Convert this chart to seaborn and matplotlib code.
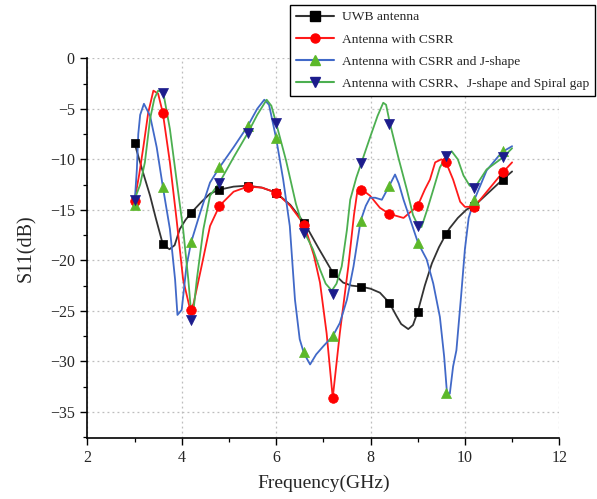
import numpy as np
import pandas as pd
import matplotlib
matplotlib.use("Agg")
import matplotlib.pyplot as plt
from matplotlib.lines import Line2D
from matplotlib.ticker import MultipleLocator
import seaborn as sns

# ---------------- data ----------------
series_names = ["UWB antenna", "Antenna with CSRR", "Antenna with CSRR and J-shape",
                "Antenna with CSRR\u3001J-shape and Spiral gap"]

# marker positions
freq_mk = [3.0, 3.6, 4.2, 4.8, 5.4, 6.0, 6.6, 7.2, 7.8, 8.4, 9.0, 9.6, 10.2, 10.8]
uwb_mk = [-8.4, -18.4, -15.3, -13.0, -12.6, -13.3, -16.3, -21.2, -22.6, -24.2, -25.1, -17.4, -14.6, -12.0]
csrr_mk = [-14.1, -5.4, -24.9, -14.6, -12.7, -13.3, -16.5, -33.6, -13.0, -15.4, -14.6, -10.3, -14.7, -11.3]
j_mk = [-14.5, -12.7, -18.2, -10.8, -6.7, -7.9, -29.1, -27.5, -16.1, -12.6, -18.3, -33.1, -14.0, -9.2]
spiral_mk = [-14.0, -3.4, -25.9, -12.3, -7.4, -6.4, -17.3, -23.3, -10.4, -6.5, -16.6, -9.7, -12.8, -9.8]

# traced curves
uwb_f = [3.0, 3.2, 3.33, 3.45, 3.6, 3.74, 3.85, 3.96, 4.08, 4.2, 4.42, 4.6, 4.8, 5.1, 5.4, 5.7, 6.0,
         6.3, 6.6, 6.9, 7.2, 7.42, 7.6, 7.8, 8.0, 8.2, 8.4, 8.55, 8.65, 8.8, 8.9, 9.0, 9.15, 9.3,
         9.45, 9.6, 9.68, 9.85, 10.04, 10.2, 10.5, 10.8, 11.0]
uwb_v = [-8.4, -11.6, -13.6, -15.8, -18.4, -18.9, -18.5, -16.9, -16.0, -15.3, -14.2, -13.4, -13.0,
         -12.7, -12.6, -12.8, -13.3, -14.5, -16.3, -18.8, -21.2, -22.2, -22.5, -22.6, -22.8, -23.2,
         -24.2, -25.5, -26.3, -26.8, -26.4, -25.1, -22.5, -20.3, -18.7, -17.4, -16.8, -15.8, -14.95,
         -14.6, -13.3, -12.0, -11.2]

csrr_f = [3.0, 3.1, 3.19, 3.29, 3.4, 3.5, 3.6, 3.75, 3.89, 4.03, 4.18, 4.25, 4.42, 4.6, 4.8, 5.1,
          5.4, 5.7, 6.0, 6.3, 6.6, 6.8, 6.93, 7.07, 7.2, 7.35, 7.53, 7.65, 7.72, 7.76, 7.82, 7.99,
          8.2, 8.4, 8.7, 9.0, 9.15, 9.26, 9.37, 9.5, 9.6, 9.75, 9.9, 10.0, 10.2, 10.5, 10.8, 11.0]
csrr_v = [-14.1, -11.5, -8.7, -5.4, -3.2, -3.5, -5.4, -10.3, -15.9, -21.9, -24.9, -24.3, -20.6,
          -16.6, -14.6, -13.2, -12.7, -12.8, -13.3, -14.6, -16.5, -19.5, -22.2, -27.2, -33.6, -27.2,
          -20.6, -15.5, -13.2, -12.8, -13.0, -13.6, -14.8, -15.4, -15.8, -14.6, -13.0, -12.0, -10.3,
          -10.0, -10.3, -12.0, -14.2, -14.7, -14.7, -13.0, -11.3, -10.3]

j_f = [3.0, 3.05, 3.08, 3.12, 3.2, 3.33, 3.47, 3.6, 3.75, 3.86, 3.91, 4.0, 4.1, 4.2, 4.39, 4.6, 4.8,
       5.1, 5.4, 5.6, 5.75, 5.85, 6.0, 6.15, 6.29, 6.4, 6.5, 6.59, 6.72, 6.85, 7.0, 7.2, 7.35, 7.5,
       7.64, 7.79, 7.9, 7.99, 8.1, 8.24, 8.4, 8.52, 8.6, 8.7, 9.01, 9.19, 9.33, 9.47, 9.56, 9.62,
       9.68, 9.75, 9.82, 9.92, 10.0, 10.08, 10.2, 10.46, 10.78, 11.0]
j_v = [-14.5, -11.0, -7.5, -5.6, -4.5, -5.7, -8.8, -12.7, -16.9, -21.9, -25.4, -24.9, -20.6, -18.2,
       -15.3, -12.3, -10.8, -8.8, -6.7, -5.0, -4.1, -4.6, -7.9, -12.0, -16.6, -23.9, -27.8, -29.2,
       -30.3, -29.3, -28.5, -27.5, -26.2, -23.9, -20.6, -16.1, -14.6, -13.8, -13.8, -14.0, -12.6,
       -11.5, -12.4, -14.0, -18.3, -19.9, -22.3, -25.6, -29.5, -33.1, -33.2, -30.5, -28.9, -23.5,
       -18.9, -15.8, -14.0, -11.1, -9.3, -8.7]

spiral_f = [3.0, 3.12, 3.22, 3.33, 3.42, 3.5, 3.61, 3.75, 3.89, 4.03, 4.14, 4.2, 4.26, 4.32, 4.46,
            4.6, 4.8, 5.1, 5.4, 5.6, 5.8, 5.9, 6.0, 6.21, 6.42, 6.61, 6.78, 6.93, 7.05, 7.18, 7.28,
            7.39, 7.5, 7.57, 7.7, 7.81, 8.0, 8.15, 8.27, 8.33, 8.41, 8.6, 8.77, 8.9, 9.01, 9.08, 9.2,
            9.33, 9.47, 9.61, 9.72, 9.85, 9.97, 10.1, 10.21, 10.46, 10.81, 11.0]
spiral_v = [-14.0, -12.5, -10.3, -6.0, -4.0, -3.2, -3.4, -7.0, -12.0, -16.9, -21.9, -25.2, -24.5,
            -21.9, -16.9, -13.6, -12.3, -9.8, -7.4, -5.6, -4.1, -4.7, -6.4, -10.1, -14.4, -17.3,
            -18.9, -20.9, -22.3, -23.0, -22.3, -20.6, -17.0, -14.0, -11.8, -10.3, -7.7, -5.7, -4.4,
            -4.6, -6.4, -10.0, -13.0, -15.5, -16.6, -16.7, -15.0, -13.0, -10.8, -9.7, -9.2, -10.0,
            -11.6, -12.6, -12.8, -11.0, -9.8, -8.9]

x_ticks = [2, 4, 6, 8, 10, 12]
y_ticks = [0, -5, -10, -15, -20, -25, -30, -35]

# ---------------- styles ----------------
line_colors = ["#333333", "#ff1a1a", "#4169c8", "#4caf50"]
mk_colors = ["#000000", "#ff0000", "#5cb82a", "#1c1c8c"]
mk_shapes = ["s", "o", "^", "v"]
mk_sizes = [36, 48, 52, 52]

curves = [(uwb_f, uwb_v), (csrr_f, csrr_v), (j_f, j_v), (spiral_f, spiral_v)]
marks = [uwb_mk, csrr_mk, j_mk, spiral_mk]

sns.set_style("ticks")
plt.rcParams["font.family"] = ["Liberation Serif", "Noto Sans CJK SC", "DejaVu Sans"]
plt.rcParams["axes.unicode_minus"] = True

fig = plt.figure(figsize=(5.97, 4.99), dpi=100)
ax = fig.add_axes([87.3 / 597, 1 - 437.7 / 499, (559.3 - 87.3) / 597, (437.7 - 58.3) / 499])

for i, name in enumerate(series_names):
    f, v = curves[i]
    df = pd.DataFrame({"f": f, "v": v})
    sns.lineplot(data=df, x="f", y="v", ax=ax, color=line_colors[i], linewidth=1.3,
                 sort=False, estimator=None, legend=False, zorder=2 + i)
for i, name in enumerate(series_names):
    dm = pd.DataFrame({"f": freq_mk, "v": marks[i]})
    sns.scatterplot(data=dm, x="f", y="v", ax=ax, color=mk_colors[i], marker=mk_shapes[i],
                    s=mk_sizes[i], edgecolor=mk_colors[i], linewidth=0.5, legend=False, zorder=10 + i)

ax.set_xlim(2, 12)
ax.set_ylim(-37.55, 0)
ax.set_xticks(x_ticks)
ax.set_yticks(y_ticks)
ax.xaxis.set_minor_locator(MultipleLocator(1))
ax.yaxis.set_minor_locator(MultipleLocator(2.5))
ax.tick_params(axis="both", which="major", direction="out", length=5, width=1.0,
               labelsize=11.5, color="black", pad=4)
ax.tick_params(axis="both", which="minor", direction="out", length=3, width=0.9, color="black")
ax.grid(True, which="major", linestyle=(0, (1.5, 2.5)), color="#bdbdbd", linewidth=0.9)
ax.set_axisbelow(True)
for s in ["top", "right"]:
    ax.spines[s].set_visible(False)
for s in ["left", "bottom"]:
    ax.spines[s].set_color("black")
    ax.spines[s].set_linewidth(1.2)

ax.set_xlabel("Frequency(GHz)", fontsize=14, labelpad=6)
ax.set_ylabel("S11(dB)", fontsize=14.5, labelpad=10)

handles = [Line2D([0], [0], color=line_colors[i], lw=1.5, marker=mk_shapes[i],
                  markersize=6.5, markerfacecolor=mk_colors[i], markeredgecolor=mk_colors[i])
           for i in range(4)]
leg = fig.legend(handles, series_names, loc="upper right",
                 bbox_to_anchor=(595 / 597, 1 - 5 / 499), bbox_transform=fig.transFigure,
                 fontsize=9.7, frameon=True, fancybox=False, framealpha=1, edgecolor="black",
                 handlelength=2.8, handletextpad=0.6, labelspacing=0.72, borderpad=0.45,
                 borderaxespad=0)
leg.get_frame().set_linewidth(1.0)

fig.savefig("out.png", dpi=100)
